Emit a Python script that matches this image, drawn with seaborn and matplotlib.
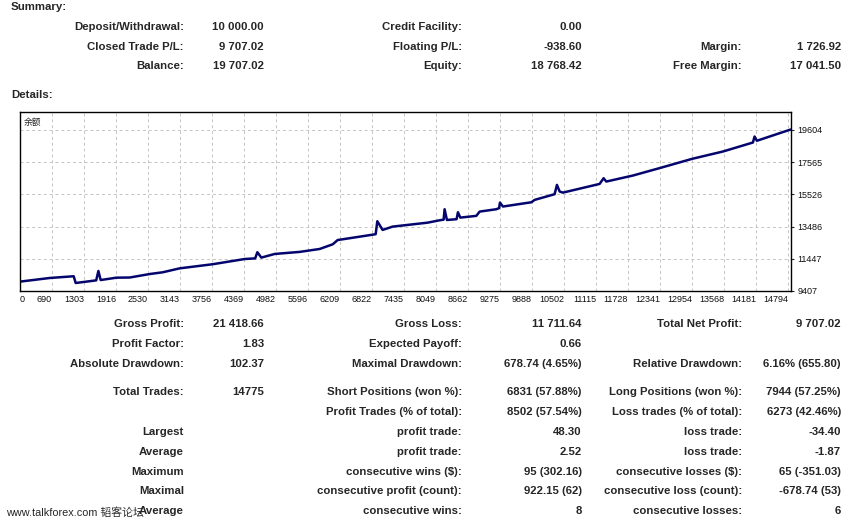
import matplotlib
matplotlib.use("Agg")
import matplotlib.pyplot as plt
import seaborn as sns
import pandas as pd

# ---------------- data ----------------
trade_index = [0, 572, 1034, 1073, 1279, 1468, 1510, 1554, 1857, 2113, 2498, 2748,
               3076, 3711, 4328, 4530, 4572, 4649, 4906, 5387, 5772, 6023, 6119,
               6793, 6851, 6883, 6985, 7178, 7852, 8083, 8160, 8179, 8224, 8410,
               8436, 8482, 8790, 8854, 9176, 9229, 9245, 9303, 9850, 9913, 10298,
               10343, 10395, 10458, 11165, 11242, 11294, 11806, 12320, 12950,
               13540, 14118, 14150, 14194, 14843]
balance = [10000, 10230, 10340, 9914, 10000, 10080, 10674, 10100, 10250, 10260,
           10480, 10590, 10840, 11100, 11430, 11470, 11860, 11520, 11750, 11880,
           12065, 12360, 12630, 12970, 13000, 13820, 13270, 13480, 13730, 13880,
           13920, 14580, 13900, 13950, 14390, 14050, 14160, 14430, 14580, 14650,
           15000, 14750, 15020, 15170, 15530, 16120, 15700, 15630, 16180, 16540,
           16330, 16710, 17180, 17770, 18230, 18800, 19180, 18910, 19620]

x_tick_labels = ['0', '690', '1303', '1916', '2530', '3143', '3756', '4369', '4982',
                 '5596', '6209', '6822', '7435', '8049', '8662', '9275', '9888',
                 '10502', '11115', '11728', '12341', '12954', '13568', '14181', '14794']
y_ticks = [9407, 11447, 13486, 15526, 17565, 19604]
chart_label = '余额'

summary_rows = [
    [("Deposit/Withdrawal:", "10 000.00"), ("Credit Facility:", "0.00"), None],
    [("Closed Trade P/L:", "9 707.02"), ("Floating P/L:", "-938.60"), ("Margin:", "1 726.92")],
    [("Balance:", "19 707.02"), ("Equity:", "18 768.42"), ("Free Margin:", "17 041.50")],
]
details_rows = [
    [("Gross Profit:", "21 418.66"), ("Gross Loss:", "11 711.64"), ("Total Net Profit:", "9 707.02")],
    [("Profit Factor:", "1.83"), ("Expected Payoff:", "0.66"), None],
    [("Absolute Drawdown:", "102.37"), ("Maximal Drawdown:", "678.74 (4.65%)"), ("Relative Drawdown:", "6.16% (655.80)")],
    [("Total Trades:", "14775"), ("Short Positions (won %):", "6831 (57.88%)"), ("Long Positions (won %):", "7944 (57.25%)")],
    [None, ("Profit Trades (% of total):", "8502 (57.54%)"), ("Loss trades (% of total):", "6273 (42.46%)")],
    [("Largest", ""), ("profit trade:", "48.30"), ("loss trade:", "-34.40")],
    [("Average", ""), ("profit trade:", "2.52"), ("loss trade:", "-1.87")],
    [("Maximum", ""), ("consecutive wins ($):", "95 (302.16)"), ("consecutive losses ($):", "65 (-351.03)")],
    [("Maximal", ""), ("consecutive profit (count):", "922.15 (62)"), ("consecutive loss (count):", "-678.74 (53)")],
    [("Average", ""), ("consecutive wins:", "8"), ("consecutive losses:", "6")],
]
watermark = "www.talkforex.com 韬客论坛"

# ---------------- layout ----------------
W, H = 853, 525
sns.set_style("white")
plt.rcParams['font.family'] = ['Liberation Sans', 'Noto Sans CJK SC', 'DejaVu Sans']

fig = plt.figure(figsize=(W / 100, H / 100), dpi=100)
fig.patch.set_facecolor("white")


def px(x, y):
    return x / W, 1 - y / H


ax = fig.add_axes([20 / W, 1 - 291 / H, 771 / W, 179 / H])
df = pd.DataFrame({"trade": trade_index, "balance": balance})
sns.lineplot(data=df, x="trade", y="balance", ax=ax, color="#05056e", linewidth=1.8)

x_max = 14794 * 771 / (32 * 24)
x_pos = [k * 14794 / 24 for k in range(len(x_tick_labels))]
ax.set_xlim(0, x_max)
ax.set_ylim(9407, 20730)
ax.set_xticks(x_pos)
ax.set_xticklabels(x_tick_labels, fontsize=6.5, color="#111111")
for i, lab in enumerate(ax.get_xticklabels()):
    lab.set_ha('left' if i == 0 else 'right')
ax.yaxis.tick_right()
ax.set_yticks(y_ticks)
ax.set_yticklabels([str(v) for v in y_ticks], fontsize=6.5, color="#111111")
ax.tick_params(axis='x', length=0, pad=3)
ax.tick_params(axis='y', length=2.5, width=0.8, pad=2, direction='out', right=True, left=False)
ax.set_xlabel("")
ax.set_ylabel("")
ax.grid(True, color="#c4c4c4", linestyle=(0, (3, 3)), linewidth=0.7)
for s in ax.spines.values():
    s.set_color("black")
    s.set_linewidth(1.0)
    s.set_visible(True)

fig.text(*px(24, 122), chart_label, fontsize=6.3, family=['Noto Sans CJK SC'],
         ha='left', va='center')

# ---------------- text tables ----------------
bold = dict(fontsize=8.2, fontweight='bold', va='center')
fig.text(*px(11, 7), "Summary:", ha='left', **bold)
fig.text(*px(11, 95), "Details:", ha='left', **bold)

label_x = [184, 462, 742]
value_x = [264, 582, 841]

summary_y = [27, 47, 66]
for row, y in zip(summary_rows, summary_y):
    for c, cell in enumerate(row):
        if cell is None:
            continue
        fig.text(*px(label_x[c], y), cell[0], ha='right', **bold)
        fig.text(*px(value_x[c], y), cell[1], ha='right', **bold)

details_y = [324, 344, 364, 392, 412, 432, 452, 472, 491, 511]
for row, y in zip(details_rows, details_y):
    for c, cell in enumerate(row):
        if cell is None:
            continue
        fig.text(*px(label_x[c], y), cell[0], ha='right', **bold)
        if cell[1]:
            fig.text(*px(value_x[c], y), cell[1], ha='right', **bold)

fig.text(*px(6, 513), watermark, fontsize=7.8, ha='left', va='center',
         family=['Liberation Sans', 'Noto Sans CJK SC'])

fig.savefig("out.png", dpi=100, facecolor="white")
